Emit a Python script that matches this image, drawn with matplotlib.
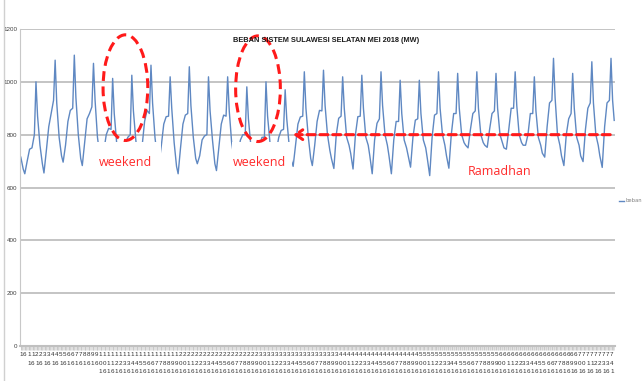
import matplotlib
matplotlib.use('Agg')
import matplotlib.pyplot as plt
from matplotlib.patches import Ellipse, Rectangle
from matplotlib.lines import Line2D

# ---- data: hourly load (MW), May 2018, read at anchor hours of each day ----
days = list(range(1, 32))
anchor_hours = [0, 3, 5, 8, 11, 14, 17, 19, 21]
load_h00 = [715, 760, 790, 800, 790, 770, 780, 790, 770, 790, 780, 770, 760, 770, 760, 790,
            800, 790, 790, 800, 780, 780, 800, 800, 800, 800, 800, 790, 800, 790, 800]
load_h03 = [670, 690, 720, 710, 720, 710, 700, 710, 680, 710, 690, 710, 700, 710, 700, 710,
            740, 760, 760, 760, 750, 750, 760, 770, 770, 770, 770, 760, 760, 760, 760]
load_h05 = [652, 655, 696, 683, 700, 690, 680, 690, 652, 690, 664, 690, 680, 690, 680, 683,
            709, 730, 720, 720, 720, 710, 720, 760, 760, 750, 760, 730, 720, 720, 720]
load_h08 = [700, 740, 760, 770, 740, 720, 760, 760, 750, 720, 750, 730, 710, 740, 760, 760,
            672, 670, 652, 652, 677, 645, 673, 750, 752, 745, 760, 715, 683, 698, 676]
load_h11 = [745, 830, 850, 860, 800, 770, 850, 840, 840, 780, 840, 780, 760, 790, 840, 850,
            800, 800, 780, 780, 790, 790, 800, 820, 820, 820, 800, 830, 800, 820, 830]
load_h14 = [750, 880, 892, 880, 824, 790, 892, 868, 874, 795, 874, 800, 790, 816, 867, 892,
            862, 868, 843, 850, 855, 874, 880, 880, 880, 900, 880, 920, 860, 900, 920]
load_h17 = [800, 930, 900, 905, 820, 800, 880, 870, 880, 800, 870, 800, 790, 820, 870, 890,
            870, 870, 860, 850, 860, 880, 880, 890, 890, 900, 880, 930, 880, 920, 930]
load_h19 = [1000, 1082, 1101, 1070, 1013, 1025, 1063, 1019, 1057, 1019, 1019, 981, 1000, 970, 1038, 1044,
            1019, 1025, 1038, 1006, 1006, 1038, 1032, 1038, 1032, 1038, 1019, 1089, 1032, 1076, 1089]
load_h21 = [870, 920, 940, 930, 880, 890, 920, 900, 910, 890, 890, 860, 870, 860, 900, 910,
            900, 900, 910, 880, 880, 900, 900, 900, 900, 910, 890, 940, 900, 920, 930]
final_hour = 743
final_load = 854

series_name = 'beban'
title = 'BEBAN SISTEM SULAWESI SELATAN MEI 2018 (MW)'
y_ticks = [0, 200, 400, 600, 800, 1000, 1200]

arrays = [load_h00, load_h03, load_h05, load_h08, load_h11, load_h14, load_h17, load_h19, load_h21]
xs, ys = [], []
for i, d in enumerate(days):
    for h, arr in zip(anchor_hours, arrays):
        xs.append((d - 1) * 24 + h)
        ys.append(arr[i])
xs.append(final_hour)
ys.append(final_load)

narrow = ['Liberation Sans Narrow', 'Liberation Sans', 'DejaVu Sans']

W, H = 644, 381
fig = plt.figure(figsize=(W / 100, H / 100), dpi=100)
ax = fig.add_axes([20 / W, 35 / H, 595 / W, 317 / H])

ax.plot(xs, ys, color='#5f88c2', lw=1.0, zorder=2, label=series_name)

ax.set_xlim(-1, 744)
ax.set_ylim(0, 1200)
ax.set_yticks(y_ticks)
ax.set_yticklabels([str(v) for v in y_ticks], fontsize=4.5, family=narrow, color='#404040')
ax.yaxis.grid(True, color='#c4c4c4', lw=1.4)
ax.set_axisbelow(True)
ax.tick_params(axis='y', length=0, pad=2)

label_idx = list(range(1, 745, 5))
ax.set_xticks([i - 1 for i in label_idx])
ax.set_xticklabels(['\n'.join(str(i)) for i in label_idx], fontsize=4.5, family=narrow,
                   color='#303030', linespacing=1.9)
ax.set_xticks(list(range(0, 744)), minor=True)
ax.tick_params(axis='x', which='major', length=3, color='#b0b0b0', width=0.5, pad=1.5)
ax.tick_params(axis='x', which='minor', length=3, color='#c8c8c8', width=0.4)

for s in ['top', 'right']:
    ax.spines[s].set_visible(False)
ax.spines['left'].set_color('#c8c8c8')
ax.spines['bottom'].set_color('#c0c0c0')
ax.spines['bottom'].set_linewidth(1.5)

# white label boxes hiding the line under the "weekend" notes
for x0, x1 in [(96, 176), (265, 340)]:
    ax.add_patch(Rectangle((x0, 625), x1 - x0, 147, facecolor='white', edgecolor='none', zorder=3))

# dashed red ellipses
for cx, cy in [(131, 978), (297, 974)]:
    ax.add_patch(Ellipse((cx, cy), 56, 400, fill=False, edgecolor='#ff1a1a', lw=2.2,
                         linestyle=(0, (3.2, 1.8)), zorder=4))

# dashed arrow
ax.annotate('', xy=(341, 800), xytext=(738, 800),
            arrowprops=dict(arrowstyle='->,head_length=0.5,head_width=0.35', color='#ff1a1a',
                            lw=2.2, linestyle=(0, (2.6, 1.6)), shrinkA=0, shrinkB=0), zorder=4)

text_kw = dict(color='#ff2a2a', fontsize=9, family=['Open Sans', 'DejaVu Sans'],
               ha='center', va='center', zorder=5)
ax.text(131, 695, 'weekend', **text_kw)
ax.text(299, 695, 'weekend', **text_kw)
ax.text(600, 660, 'Ramadhan', **text_kw)

fig.text(326 / W, 1 - 40 / H, title, fontsize=5.3, fontweight='bold', family=narrow,
         ha='center', va='center', color='#1a1a1a')

leg = ax.legend(loc='center left', bbox_to_anchor=(619 / W, 1 - 201 / H),
                bbox_transform=fig.transFigure, frameon=False, fontsize=3.8,
                handlelength=1.0, handletextpad=0.2, borderaxespad=0, borderpad=0)
for t in leg.get_texts():
    t.set_color('#808080')

fig.add_artist(Line2D([4 / W, 4 / W], [0, 1], transform=fig.transFigure, color='#d0d0d0', lw=1))

fig.savefig('out.png', dpi=100)
